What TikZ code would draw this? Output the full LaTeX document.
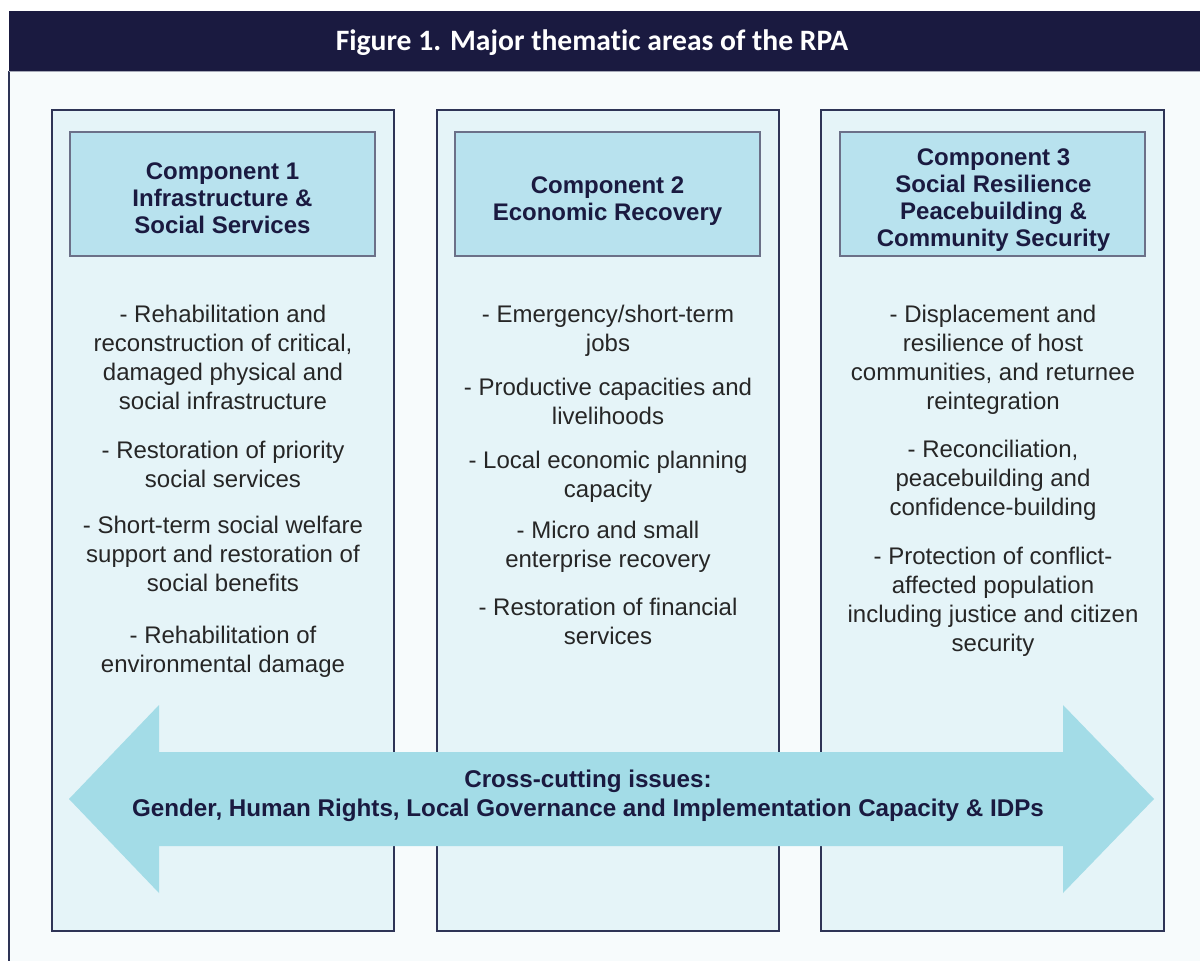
\documentclass[tikz,border=0pt]{standalone}
\usepackage{fontspec}
\setmainfont{Liberation Sans}
\newfontfamily\titlefont[Ligatures={NoCommon,NoContextual}]{Carlito}
\definecolor{navy}{HTML}{1A1A40}
\definecolor{pagebg}{HTML}{F7FBFC}
\definecolor{colfill}{HTML}{E5F4F8}
\definecolor{colline}{HTML}{2E3456}
\definecolor{headfill}{HTML}{B8E2EE}
\definecolor{headline}{HTML}{6B7088}
\definecolor{arrowfill}{HTML}{A3DCE7}
\definecolor{bodytext}{HTML}{262626}
\tikzset{
  colbox/.style={draw=colline, line width=1.5pt, fill=colfill},
  headbox/.style={draw=headline, line width=1.2pt, fill=headfill},
  headtext/.style={align=center, text=navy, font=\fontsize{24}{27}\selectfont\bfseries, inner sep=0pt},
  item/.style={align=center, text=bodytext, font=\fontsize{24}{29}\selectfont, inner sep=0pt},
  cross/.style={align=center, text=navy, font=\fontsize{24.2}{29}\selectfont\bfseries, inner sep=0pt},
}
\begin{document}
\begin{tikzpicture}[x=1pt,y=-1pt]
\useasboundingbox (0,0) rectangle (1200,961);
\fill[white] (0,0) rectangle (1200,961);
\fill[pagebg] (9,71) rectangle (1200,961);
\draw[colline, line width=1.2pt] (9,71) -- (9,961);
\fill[navy] (9,11) rectangle (1200,71);
\draw[headline!60, line width=0.8pt] (9,71) -- (1200,71);
\node[text=white, font=\titlefont\fontsize{29.6}{32}\selectfont\bfseries, inner sep=0pt] (title) at (592,43) {Figure 1. Major thematic areas of the RPA};

% columns
\draw[colbox] (52,110) rectangle (394,931);
\draw[colbox] (437,110) rectangle (779,931);
\draw[colbox] (821,110) rectangle (1164,931);

% headers
\draw[headbox] (70,132) rectangle (375,256);
\draw[headbox] (455,132) rectangle (760,256);
\draw[headbox] (840,132) rectangle (1145,256);
\node[headtext] (h1) at (222.5,198.5) {Component 1\\Infrastructure \&\\Social Services};
\node[headtext] (h2) at (607.5,201.5) {Component 2\\Economic Recovery};
\node[headtext] (h3) at (993.5,200.5) {Component 3\\Social Resilience\\Peacebuilding \&\\Community Security};

% column 1 items
\node[item] (a1) at (223,357.5) {- Rehabilitation and\\reconstruction of critical,\\damaged physical and\\social infrastructure};
\node[item] (a2) at (223,464.5) {- Restoration of priority\\social services};
\node[item] (a3) at (223,553.5) {- Short-term social welfare\\support and restoration of\\social benefits};
\node[item] (a4) at (223,652) {- Rehabilitation of\\environmental damage};

% column 2 items
\node[item] (b1) at (608,330.5) {- Emergency/short-term\\jobs};
\node[item] (b2) at (608,401) {- Productive capacities and\\livelihoods};
\node[item] (b3) at (608,477) {- Local economic planning\\capacity};
\node[item] (b4) at (608,547) {- Micro and small\\enterprise recovery};
\node[item] (b5) at (608,621) {- Restoration of financial\\services};

% column 3 items
\node[item] (c1) at (993,359.5) {- Displacement and\\resilience of host\\communities, and returnee\\reintegration};
\node[item] (c2) at (993,480) {- Reconciliation,\\peacebuilding and\\confidence-building};
\node[item] (c3) at (993,601.5) {- Protection of conflict-\\affected population\\including justice and citizen\\security};

% cross-cutting arrow
\fill[arrowfill] (69,799) -- (159,705) -- (159,752) -- (1063,752) -- (1063,705)
  -- (1154,799) -- (1063,893) -- (1063,846) -- (159,846) -- (159,893) -- cycle;
\node[cross] (cc) at (588,796) {Cross-cutting issues:\\Gender, Human Rights, Local Governance and Implementation Capacity \& IDPs};
\end{tikzpicture}
\end{document}
